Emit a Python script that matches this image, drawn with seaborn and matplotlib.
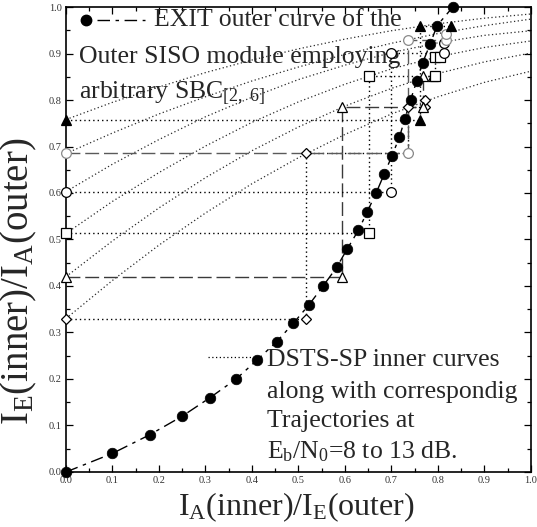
import matplotlib
matplotlib.use("Agg")
import matplotlib.pyplot as plt
import numpy as np
import pandas as pd
import seaborn as sns
from matplotlib.ticker import MultipleLocator, FormatStrFormatter

# ---- EXIT curve of the outer SISO module (SBC[2,6]) ----
outer_x = [0.0, 0.10, 0.18, 0.25, 0.31, 0.366, 0.41, 0.453, 0.489, 0.523, 0.553,
           0.582, 0.605, 0.629, 0.648, 0.667, 0.684, 0.701, 0.717, 0.729, 0.741,
           0.754, 0.767, 0.783, 0.798, 0.832]
outer_y = [0.0, 0.04, 0.08, 0.12, 0.16, 0.20, 0.24, 0.28, 0.32, 0.36, 0.40,
           0.44, 0.48, 0.52, 0.56, 0.60, 0.64, 0.68, 0.72, 0.76, 0.80,
           0.84, 0.88, 0.92, 0.96, 1.00]

# ---- DSTS-SP inner EXIT curves, Eb/N0 = 8 ... 13 dB ----
inner_x = [0.0, 0.1, 0.2, 0.3, 0.4, 0.5, 0.6, 0.7, 0.8, 0.9, 1.0]
inner_8db = [0.330, 0.412, 0.488, 0.557, 0.620, 0.676, 0.726, 0.770, 0.807, 0.838, 0.862]
inner_9db = [0.420, 0.497, 0.568, 0.633, 0.691, 0.742, 0.787, 0.825, 0.857, 0.882, 0.901]
inner_10db = [0.513, 0.582, 0.644, 0.701, 0.752, 0.796, 0.834, 0.867, 0.893, 0.913, 0.927]
inner_11db = [0.603, 0.662, 0.715, 0.764, 0.806, 0.844, 0.875, 0.902, 0.923, 0.939, 0.949]
inner_12db = [0.685, 0.729, 0.770, 0.807, 0.841, 0.871, 0.898, 0.922, 0.943, 0.960, 0.974]
inner_13db = [0.758, 0.795, 0.828, 0.859, 0.886, 0.910, 0.931, 0.949, 0.964, 0.976, 0.985]

# ---- decoding trajectories ----
traj_8db_x = [0.0, 0.517, 0.517, 0.735, 0.735, 0.772, 0.772]
traj_8db_y = [0.330, 0.330, 0.685, 0.685, 0.786, 0.786, 0.800]
traj_9db_x = [0.0, 0.593, 0.593, 0.768, 0.768, 0.789]
traj_9db_y = [0.420, 0.420, 0.784, 0.784, 0.852, 0.852]
traj_10db_x = [0.0, 0.652, 0.652, 0.794, 0.794, 0.804]
traj_10db_y = [0.513, 0.513, 0.852, 0.852, 0.892, 0.892]
traj_11db_x = [0.0, 0.699, 0.699, 0.812, 0.812]
traj_11db_y = [0.603, 0.603, 0.902, 0.902, 0.922]
traj_12db_x = [0.0, 0.735, 0.735, 0.818, 0.818]
traj_12db_y = [0.685, 0.685, 0.930, 0.930, 0.943]
traj_13db_x = [0.0, 0.761, 0.761, 0.827]
traj_13db_y = [0.758, 0.758, 0.959, 0.959]

snr_labels = ["8 dB", "9 dB", "10 dB", "11 dB", "12 dB", "13 dB"]

inner_df = pd.DataFrame({
    "x": inner_x * 6,
    "y": inner_8db + inner_9db + inner_10db + inner_11db + inner_12db + inner_13db,
    "snr": [s for s in snr_labels for _ in inner_x],
})

traj_sets = [
    (traj_8db_x, traj_8db_y), (traj_9db_x, traj_9db_y), (traj_10db_x, traj_10db_y),
    (traj_11db_x, traj_11db_y), (traj_12db_x, traj_12db_y), (traj_13db_x, traj_13db_y),
]

# marker / line appearance for each SNR
DOT = (0, (1.0, 2.2))
LONGDASH = (0, (10.0, 3.5))
traj_style = {
    "8 dB": dict(marker="D", fc="white", ec="black", ms=5.0, ls=DOT, color="black"),
    "9 dB": dict(marker="^", fc="white", ec="black", ms=7.5, ls=LONGDASH, color="#3a3a3a"),
    "10 dB": dict(marker="s", fc="white", ec="black", ms=7.0, ls=DOT, color="black"),
    "11 dB": dict(marker="o", fc="white", ec="black", ms=7.0, ls=DOT, color="black"),
    "12 dB": dict(marker="o", fc="white", ec="#8a8a8a", ms=7.0, ls=LONGDASH, color="#5a5a5a"),
    "13 dB": dict(marker="^", fc="black", ec="black", ms=7.5, ls=DOT, color="black"),
}

sns.set_theme(style="ticks")
plt.rcParams["font.family"] = ["Liberation Serif", "DejaVu Serif"]
plt.rcParams["mathtext.fontset"] = "custom"
plt.rcParams["mathtext.rm"] = "Liberation Serif"
plt.rcParams["mathtext.it"] = "Liberation Serif:italic"

fig = plt.figure(figsize=(5.37, 5.27), dpi=100)
ax = fig.add_axes([0.1229, 0.1044, 0.8659, 0.8823])

# inner curves
sns.lineplot(data=inner_df, x="x", y="y", units="snr", estimator=None, sort=False,
             color="#2a2a2a", lw=0.9, linestyle=(0, (1.0, 2.0)), ax=ax, legend=False)

# trajectories with their markers
for snr, (tx, ty) in zip(snr_labels, traj_sets):
    st = traj_style[snr]
    sns.lineplot(x=tx, y=ty, sort=False, estimator=None, color=st["color"],
                 lw=1.0, linestyle=st["ls"], ax=ax, legend=False)
    ax.plot(tx, ty, linestyle="none", marker=st["marker"], ms=st["ms"],
            mfc=st["fc"], mec=st["ec"], mew=0.9, zorder=4, clip_on=False)

# outer curve
DASHDOT = (0, (9.0, 4.0, 2.5, 4.0))
sns.lineplot(x=outer_x, y=outer_y, sort=False, estimator=None, color="black",
             lw=1.0, linestyle=DASHDOT, ax=ax, legend=False)
sns.scatterplot(x=outer_x, y=outer_y, color="black", s=58, edgecolor="black",
                linewidth=0.5, ax=ax, legend=False, zorder=5, clip_on=False)

ax.set_xlim(0, 1)
ax.set_ylim(0, 1)
for side in ["top", "right", "left", "bottom"]:
    ax.spines[side].set_visible(True)
    ax.spines[side].set_linewidth(1.2)
    ax.spines[side].set_color("black")
ax.xaxis.set_major_locator(MultipleLocator(0.1))
ax.yaxis.set_major_locator(MultipleLocator(0.1))
ax.xaxis.set_minor_locator(MultipleLocator(0.05))
ax.yaxis.set_minor_locator(MultipleLocator(0.05))
ax.xaxis.set_major_formatter(FormatStrFormatter("%.1f"))
ax.yaxis.set_major_formatter(FormatStrFormatter("%.1f"))
ax.tick_params(which="both", direction="in", top=True, right=True, color="black",
               width=0.9, labelsize=7.5, labelcolor="#333333")
ax.tick_params(which="major", length=5, pad=3)
ax.tick_params(which="minor", length=3)

ax.set_xlabel(r"$\mathregular{I_A(inner)/I_E(outer)}$", fontsize=23)
ax.set_ylabel(r"$\mathregular{I_E(inner)/I_A(outer)}$", fontsize=28)
ax.xaxis.set_label_coords(0.495, -0.040)
ax.yaxis.set_label_coords(-0.058, 0.41)

# key for the outer curve
ax.plot([0.043], [0.972], marker="o", ms=7.5, color="black", linestyle="none",
        transform=ax.transAxes, clip_on=False)
ax.plot([0.067, 0.170], [0.972, 0.972], color="black", lw=1.0, linestyle=DASHDOT,
        transform=ax.transAxes)
txt = dict(fontsize=18.5, va="center", ha="left", transform=ax.transAxes)
ax.text(0.190, 0.972, "EXIT outer curve of the", **txt)
ax.text(0.028, 0.892, "Outer SISO module employing", **txt)
ax.text(0.028, 0.815, r"arbitrary SBC$_{\mathregular{[2,\ 6]}}$", **txt)

# key for the inner curves
ax.plot([0.305, 0.422], [0.247, 0.247], color="black", lw=0.9,
        linestyle=(0, (1.0, 2.0)), transform=ax.transAxes)
ax.text(0.432, 0.240, "DSTS-SP inner curves", **txt)
ax.text(0.432, 0.172, "along with correspondig", **txt)
ax.text(0.432, 0.110, "Trajectories at", **txt)
ax.text(0.432, 0.043, r"E$_\mathregular{b}$/N$_\mathregular{0}$=8 to 13 dB.", **txt)

fig.savefig("out.png", dpi=100)
